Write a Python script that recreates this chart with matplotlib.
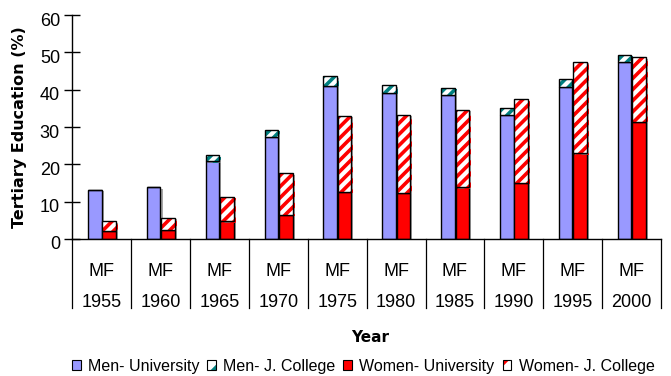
import numpy as np
import matplotlib
matplotlib.use("Agg")
import matplotlib.pyplot as plt
from matplotlib.patches import Patch
import matplotlib.transforms as mtransforms
import matplotlib.patheffects as pe

years = ['1955', '1960', '1965', '1970', '1975', '1980', '1985', '1990', '1995', '2000']
men_univ = [13.2, 13.8, 20.8, 27.4, 41.1, 39.2, 38.6, 33.3, 40.8, 47.5]
men_jcoll = [0.0, 0.0, 1.6, 1.8, 2.5, 2.0, 1.9, 1.9, 2.0, 1.9]
women_univ = [2.2, 2.5, 4.7, 6.5, 12.6, 12.3, 13.8, 15.1, 23.0, 31.4]
women_jcoll = [2.5, 3.1, 6.6, 11.1, 20.4, 21.0, 20.8, 22.3, 24.5, 17.3]

blue = '#9999ff'
red = '#ff0000'
teal = '#008080'

plt.rcParams['hatch.linewidth'] = 2.6
plt.rcParams['font.family'] = 'Liberation Sans'

fig = plt.figure(figsize=(6.71, 3.76), dpi=100)
ax = fig.add_axes([0.1080, 0.3644, 0.877, 0.5956])

x = np.arange(len(years))
w = 0.23
xm = x - 0.12
xw = x + 0.125

shadow = [pe.SimplePatchShadow(offset=(1.5, -1), shadow_rgbFace='#808080', alpha=0.7),
          pe.Normal()]

# men
ax.bar(xm, men_univ, w, color=blue, edgecolor='black', linewidth=1, path_effects=shadow)
ax.bar(xm, men_jcoll, w, bottom=men_univ, color='white', edgecolor=teal,
       hatch='///', linewidth=0, path_effects=shadow)
ax.bar(xm, men_jcoll, w, bottom=men_univ, fill=False, edgecolor='black', linewidth=1)

# women
ax.bar(xw, women_univ, w, color=red, edgecolor='black', linewidth=1, path_effects=shadow)
ax.bar(xw, women_jcoll, w, bottom=women_univ, color='white', edgecolor=red,
       hatch='///', linewidth=0, path_effects=shadow)
ax.bar(xw, women_jcoll, w, bottom=women_univ, fill=False, edgecolor='black', linewidth=1)

ax.set_xlim(-0.5, len(years) - 0.5)
ax.set_ylim(0, 60)
ax.set_yticks(range(0, 61, 10))
ax.tick_params(axis='y', direction='inout', length=12, width=1, labelsize=13, pad=3)
ax.set_xticks([])
for s in ['top', 'right']:
    ax.spines[s].set_visible(False)
for s in ['left', 'bottom']:
    ax.spines[s].set_linewidth(1)

# tick labels sit a little below their ticks
shift = mtransforms.ScaledTranslation(0, -4 / 100, fig.dpi_scale_trans)
for lab in ax.get_yticklabels():
    lab.set_transform(lab.get_transform() + shift)

# category table below the axis
trans = mtransforms.blended_transform_factory(ax.transData, ax.transAxes)
for b in np.arange(-0.5, len(years), 1.0):
    ax.plot([b, b], [0, -0.31], color='black', lw=0.9, transform=trans, clip_on=False)
for i, yr in enumerate(years):
    ax.text(i, -0.145, 'MF', transform=trans, ha='center', va='center', fontsize=13)
    ax.text(i, -0.285, yr, transform=trans, ha='center', va='center', fontsize=13)

ax.set_ylabel('Tertiary Education (%)', fontsize=11.5, fontweight='bold',
              family='DejaVu Sans')
ax.yaxis.set_label_coords(-0.078, 0.5)
fig.text(370 / 671, 1 - 337 / 376, 'Year', ha='center', va='center',
         fontsize=11, fontweight='bold', family='DejaVu Sans')

handles = [
    Patch(facecolor=blue, edgecolor='black', linewidth=0.8),
    (Patch(facecolor='white', edgecolor=teal, hatch='//', linewidth=0),
     Patch(fill=False, edgecolor='black', linewidth=0.8)),
    Patch(facecolor=red, edgecolor='black', linewidth=0.8),
    (Patch(facecolor='white', edgecolor=red, hatch='//', linewidth=0),
     Patch(fill=False, edgecolor='black', linewidth=0.8)),
]
labels = ['Men- University', 'Men- J. College', 'Women- University', 'Women- J. College']
fig.legend(handles, labels, loc='center left', bbox_to_anchor=(0.107, 1 - 366 / 376),
           ncol=4, frameon=False, fontsize=11.5, handlelength=0.55, handleheight=0.55,
           handletextpad=0.45, columnspacing=0.5, borderaxespad=0, borderpad=0)

fig.savefig('out.png', dpi=100)
